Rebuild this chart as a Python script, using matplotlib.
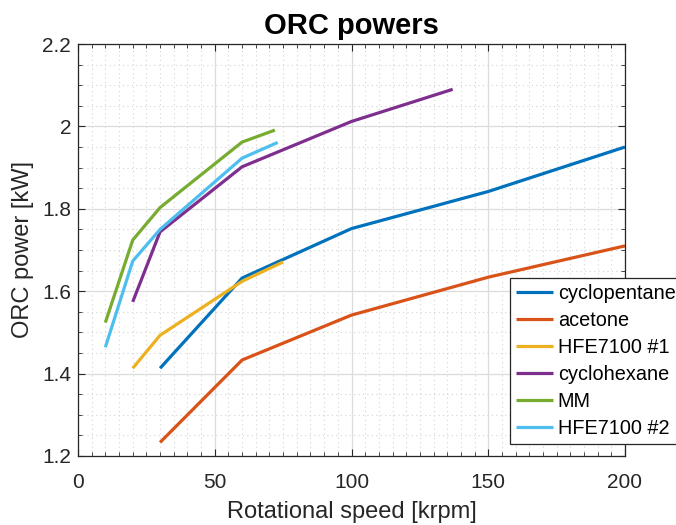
import matplotlib
matplotlib.use("Agg")
import matplotlib.pyplot as plt
from matplotlib.ticker import MultipleLocator, FuncFormatter

names = ["cyclopentane", "acetone", "HFE7100 #1", "cyclohexane", "MM", "HFE7100 #2"]
colors = ["#0072BD", "#D95319", "#EDB120", "#7E2F8E", "#77AC30", "#4DBEEE"]

x_cyclopentane = [30, 60, 100, 150, 200]
y_cyclopentane = [1.413, 1.632, 1.752, 1.842, 1.95]
x_acetone = [30, 60, 100, 150, 200]
y_acetone = [1.233, 1.433, 1.542, 1.634, 1.71]
x_hfe1 = [20, 30, 60, 75]
y_hfe1 = [1.413, 1.493, 1.624, 1.671]
x_cyclohexane = [20, 30, 60, 100, 137]
y_cyclohexane = [1.574, 1.744, 1.902, 2.012, 2.09]
x_mm = [10, 20, 30, 60, 72]
y_mm = [1.524, 1.724, 1.803, 1.962, 1.991]
x_hfe2 = [10, 20, 30, 60, 73]
y_hfe2 = [1.464, 1.673, 1.75, 1.923, 1.961]

series = [(x_cyclopentane, y_cyclopentane), (x_acetone, y_acetone), (x_hfe1, y_hfe1),
          (x_cyclohexane, y_cyclohexane), (x_mm, y_mm), (x_hfe2, y_hfe2)]

plt.rcParams['font.family'] = ['Liberation Sans', 'DejaVu Sans']
fig = plt.figure(figsize=(6.76, 5.25), dpi=100)
ax = fig.add_axes([78/676, 69/525, 547/676, 412/525])

for (xs, ys), n, c in zip(series, names, colors):
    ax.plot(xs, ys, color=c, lw=2.3, label=n, solid_capstyle='butt')

ax.set_xlim(0, 200)
ax.set_ylim(1.2, 2.2)
ax.xaxis.set_major_locator(MultipleLocator(50))
ax.xaxis.set_minor_locator(MultipleLocator(5))
ax.yaxis.set_major_locator(MultipleLocator(0.2))
ax.yaxis.set_minor_locator(MultipleLocator(0.05))
ax.yaxis.set_major_formatter(FuncFormatter(lambda v, p: ('%g' % round(v, 2))))
ax.grid(which='major', color='#dcdcdc', lw=0.9, ls='-')
ax.grid(which='minor', color='#d4d4d4', lw=0.8, ls=(0, (1, 3)))
ax.set_axisbelow(True)
ax.tick_params(which='both', direction='in', top=True, right=True, colors='#262626', labelsize=15)
ax.tick_params(which='major', length=5)
ax.tick_params(which='minor', length=3)
ax.tick_params(axis='x', which='major', pad=12)
ax.tick_params(axis='y', which='major', pad=5)
for s in ax.spines.values():
    s.set_color('#262626')
    s.set_linewidth(0.9)

ax.set_title("ORC powers", fontsize=21, fontweight='bold', pad=7)
ax.set_xlabel("Rotational speed [krpm]", fontsize=17, color='#262626', labelpad=7)
ax.set_ylabel("ORC power [kW]", fontsize=17, color='#262626', labelpad=6)

leg = fig.legend(loc='upper left', bbox_to_anchor=(510/676, 1 - 278/525), fontsize=14.3,
                 frameon=True, fancybox=False, edgecolor='#262626', framealpha=1,
                 handlelength=1.85, borderpad=0.3, labelspacing=0.4, handletextpad=0.25,
                 borderaxespad=0)
leg.get_frame().set_linewidth(0.9)

fig.savefig("out.png", dpi=100)
